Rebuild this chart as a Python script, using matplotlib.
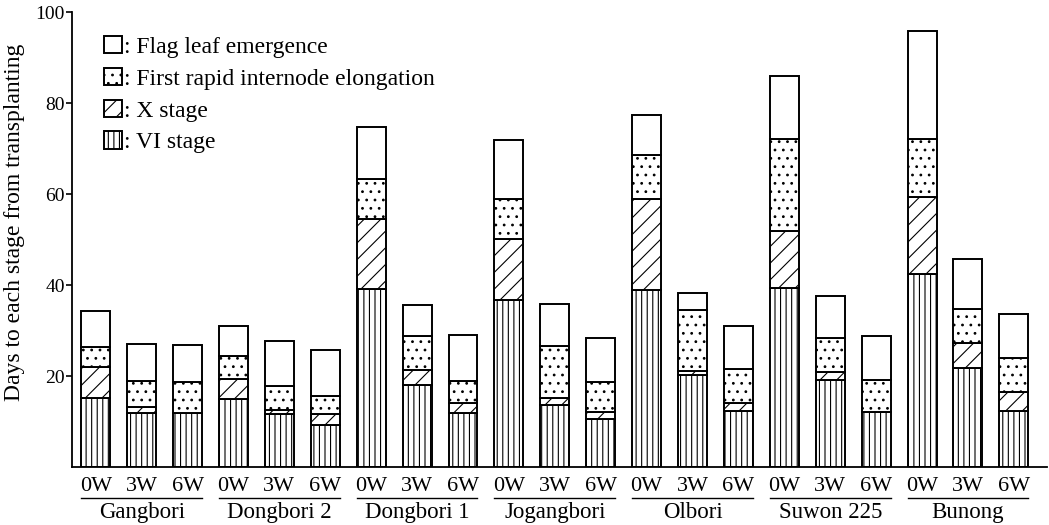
import matplotlib
matplotlib.use("Agg")
import matplotlib.pyplot as plt
from matplotlib.patches import Patch
import numpy as np

plt.rcParams['font.family'] = ['Liberation Serif', 'DejaVu Serif']
plt.rcParams['hatch.linewidth'] = 0.8

# Cultivars and shading treatments
cultivars = ['Gangbori', 'Dongbori 2', 'Dongbori 1', 'Jogangbori',
             'Olbori', 'Suwon 225', 'Bunong']
treatments = ['0W', '3W', '6W']

# Days from transplanting to each stage (one value per bar, cultivar by cultivar)
days_vi = [15.1, 11.8, 11.8, 14.9, 11.7, 9.3, 39.1, 18.1, 11.8, 36.8, 13.7, 10.5,
           39.0, 20.2, 12.2, 39.3, 19.2, 12.0, 42.4, 21.8, 12.2]
days_x = [22.0, 13.2, 11.8, 19.3, 12.6, 11.7, 54.6, 21.4, 14.1, 50.1, 15.1, 12.0,
          59.0, 21.2, 14.1, 51.9, 20.8, 12.0, 59.4, 27.2, 16.4]
days_fre = [26.3, 18.8, 18.6, 24.5, 17.7, 15.5, 63.4, 28.9, 18.8, 58.8, 26.7, 18.6,
            68.6, 34.4, 21.6, 72.0, 28.3, 19.2, 72.0, 34.8, 24.0]
days_flag = [34.2, 27.1, 26.9, 30.9, 27.7, 25.7, 74.8, 35.6, 29.1, 71.9, 35.8, 28.3,
             77.4, 38.2, 31.1, 85.9, 37.5, 28.9, 95.9, 45.8, 33.6]

stage_labels = [': Flag leaf emergence', ': First rapid internode elongation',
                ': X stage', ': VI stage']
stage_hatches = ['', '..', '//', '|||']

fig = plt.figure(figsize=(10.49, 5.25), dpi=100)
ax = fig.add_axes([0.0686, 0.1105, 0.9294, 0.8665])

n = len(cultivars) * len(treatments)
xpos = np.arange(n)
width = 0.63

vi = np.array(days_vi)
xs = np.array(days_x)
fre = np.array(days_fre)
flag = np.array(days_flag)

segments = [(vi, np.zeros(n), '|||'),
            (xs - vi, vi, '//'),
            (fre - xs, xs, '..'),
            (flag - fre, fre, '')]
for height, bottom, hatch in segments:
    ax.bar(xpos, height, width, bottom=bottom, facecolor='white',
           edgecolor='black', linewidth=1.4, hatch=hatch)

ax.set_xlim(-0.52, n - 0.28)
ax.set_ylim(0, 100)
ax.set_yticks([20, 40, 60, 80, 100])
ax.tick_params(axis='y', direction='out', length=4, width=1.2, labelsize=14, pad=1)
ax.set_xticks([])
ax.spines['top'].set_visible(False)
ax.spines['right'].set_visible(False)
ax.spines['left'].set_linewidth(1.3)
ax.spines['bottom'].set_linewidth(1.3)

fig.text(15 / 1049, 0.577, 'Days to each stage from transplanting', rotation=90,
         ha='center', va='center', fontsize=17)

# treatment labels, group underline and cultivar names
trans = ax.get_xaxis_transform()
for g, name in enumerate(cultivars):
    idx = [g * 3 + k for k in range(3)]
    for k, t in zip(idx, treatments):
        ax.text(xpos[k], -0.043, t, transform=trans, ha='center', va='center',
                fontsize=16)
    ax.plot([xpos[idx[0]] - width / 2, xpos[idx[-1]] + width / 2], [-0.068, -0.068],
            transform=trans, color='black', linewidth=1.0, clip_on=False)
    ax.text(xpos[idx[1]], -0.1, name, transform=trans, ha='center', va='center',
            fontsize=16.5)

handles = [Patch(facecolor='white', edgecolor='black', linewidth=1.4, hatch=h)
           for h in stage_hatches]
ax.legend(handles, stage_labels, loc='upper left', bbox_to_anchor=(0.023, 0.968),
          frameon=False, fontsize=17, handlelength=0.75, handleheight=0.75,
          handletextpad=0.1, labelspacing=0.42, borderaxespad=0)

fig.savefig('out.png', dpi=100)
